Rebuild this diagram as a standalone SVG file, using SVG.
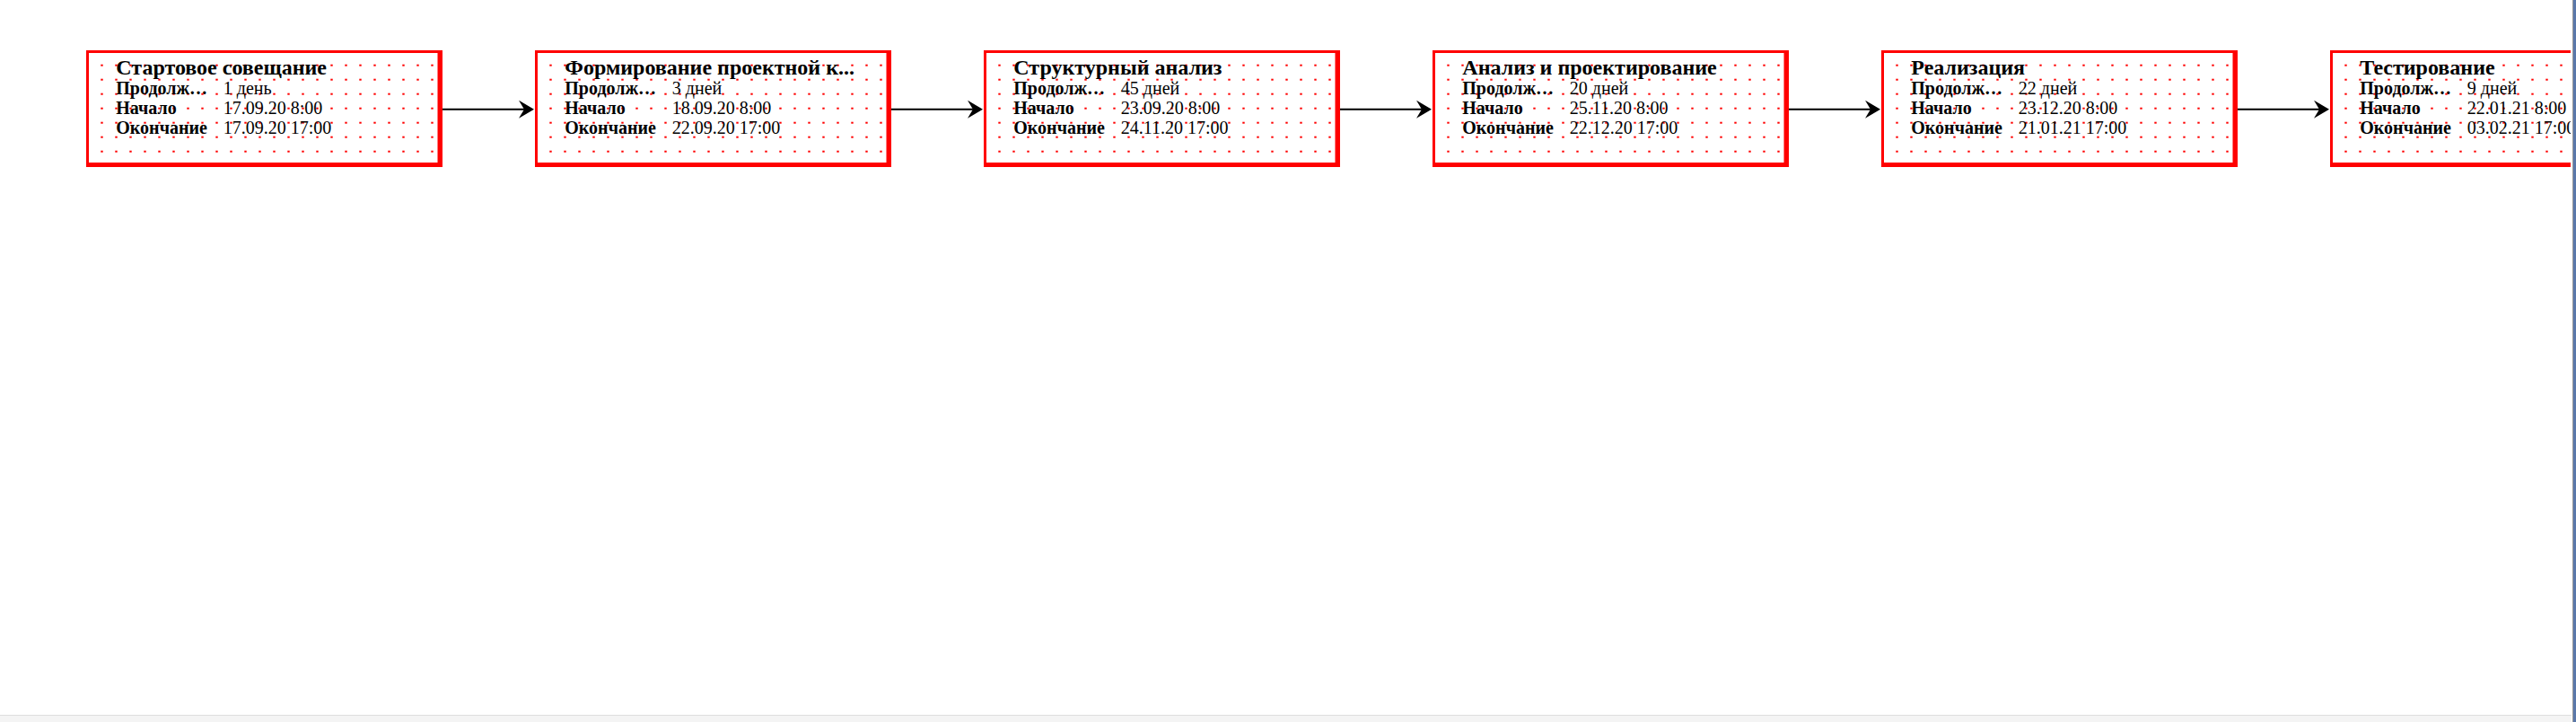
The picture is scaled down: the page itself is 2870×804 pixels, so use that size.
<svg xmlns="http://www.w3.org/2000/svg" width="2870" height="804" viewBox="0 0 2870 804">
<style>
.border{fill:#ff0000}
.inner{fill:#ffffff}
.dots{fill:url(#grid)}
.title{font-family:"Liberation Serif","Times New Roman",serif;font-weight:bold;font-size:24px;fill:#000}
.lbl{font-family:"Liberation Serif","Times New Roman",serif;font-weight:bold;font-size:20px;fill:#000}
.val{font-family:"Liberation Serif","Times New Roman",serif;font-size:20px;fill:#000}
.conn{stroke:#000;stroke-width:2;fill:none;marker-end:url(#arrow)}
</style>
<defs>
<pattern id="grid" patternUnits="userSpaceOnUse" x="0" y="0" width="16" height="16">
<rect x="0.3" y="7.7" width="2.4" height="2" fill="#ff0000"/>
</pattern>
<marker id="arrow" markerUnits="userSpaceOnUse" viewBox="0 0 17 20" refX="12" refY="10" markerWidth="17" markerHeight="20" orient="auto">
<path d="M0,0 L17,10 L0,20 L6,10 Z" fill="#000"/>
</marker>
<clipPath id="view"><rect x="0" y="0" width="2864" height="796"/></clipPath>
</defs>
<rect x="0" y="0" width="2870" height="804" fill="#ffffff"/>
<g clip-path="url(#view)">
<g id="connectors">
<path class="conn" d="M493,121.7 H590"/>
<path class="conn" d="M993,121.7 H1090"/>
<path class="conn" d="M1493,121.7 H1590"/>
<path class="conn" d="M1993,121.7 H2090"/>
<path class="conn" d="M2493,121.7 H2590"/>
</g>
<g id="node1" transform="translate(96,0)">
<rect class="border" x="0" y="56" width="397" height="130"/>
<rect class="inner" x="3" y="59" width="388.5" height="122"/>
<rect class="dots" x="3" y="59" width="388.5" height="122"/>
<text class="title" x="33.3" y="83.3">Стартовое совещание</text>
<text class="lbl" x="33.3" y="105.3">Продолж…</text>
<text class="val" x="152.8" y="105.3">1 день</text>
<text class="lbl" x="33.3" y="127.3">Начало</text>
<text class="val" x="152.8" y="127.3">17.09.20 8:00</text>
<text class="lbl" x="33.3" y="149.3">Окончание</text>
<text class="val" x="152.8" y="149.3">17.09.20 17:00</text>
</g>
<g id="node2" transform="translate(596,0)">
<rect class="border" x="0" y="56" width="397" height="130"/>
<rect class="inner" x="3" y="59" width="388.5" height="122"/>
<rect class="dots" x="3" y="59" width="388.5" height="122"/>
<text class="title" x="33.3" y="83.3">Формирование проектной к...</text>
<text class="lbl" x="33.3" y="105.3">Продолж…</text>
<text class="val" x="152.8" y="105.3">3 дней</text>
<text class="lbl" x="33.3" y="127.3">Начало</text>
<text class="val" x="152.8" y="127.3">18.09.20 8:00</text>
<text class="lbl" x="33.3" y="149.3">Окончание</text>
<text class="val" x="152.8" y="149.3">22.09.20 17:00</text>
</g>
<g id="node3" transform="translate(1096,0)">
<rect class="border" x="0" y="56" width="397" height="130"/>
<rect class="inner" x="3" y="59" width="388.5" height="122"/>
<rect class="dots" x="3" y="59" width="388.5" height="122"/>
<text class="title" x="33.3" y="83.3">Структурный анализ</text>
<text class="lbl" x="33.3" y="105.3">Продолж…</text>
<text class="val" x="152.8" y="105.3">45 дней</text>
<text class="lbl" x="33.3" y="127.3">Начало</text>
<text class="val" x="152.8" y="127.3">23.09.20 8:00</text>
<text class="lbl" x="33.3" y="149.3">Окончание</text>
<text class="val" x="152.8" y="149.3">24.11.20 17:00</text>
</g>
<g id="node4" transform="translate(1596,0)">
<rect class="border" x="0" y="56" width="397" height="130"/>
<rect class="inner" x="3" y="59" width="388.5" height="122"/>
<rect class="dots" x="3" y="59" width="388.5" height="122"/>
<text class="title" x="33.3" y="83.3">Анализ и проектирование</text>
<text class="lbl" x="33.3" y="105.3">Продолж…</text>
<text class="val" x="152.8" y="105.3">20 дней</text>
<text class="lbl" x="33.3" y="127.3">Начало</text>
<text class="val" x="152.8" y="127.3">25.11.20 8:00</text>
<text class="lbl" x="33.3" y="149.3">Окончание</text>
<text class="val" x="152.8" y="149.3">22.12.20 17:00</text>
</g>
<g id="node5" transform="translate(2096,0)">
<rect class="border" x="0" y="56" width="397" height="130"/>
<rect class="inner" x="3" y="59" width="388.5" height="122"/>
<rect class="dots" x="3" y="59" width="388.5" height="122"/>
<text class="title" x="33.3" y="83.3">Реализация</text>
<text class="lbl" x="33.3" y="105.3">Продолж…</text>
<text class="val" x="152.8" y="105.3">22 дней</text>
<text class="lbl" x="33.3" y="127.3">Начало</text>
<text class="val" x="152.8" y="127.3">23.12.20 8:00</text>
<text class="lbl" x="33.3" y="149.3">Окончание</text>
<text class="val" x="152.8" y="149.3">21.01.21 17:00</text>
</g>
<g id="node6" transform="translate(2596,0)">
<rect class="border" x="0" y="56" width="397" height="130"/>
<rect class="inner" x="3" y="59" width="388.5" height="122"/>
<rect class="dots" x="3" y="59" width="388.5" height="122"/>
<text class="title" x="33.3" y="83.3">Тестирование</text>
<text class="lbl" x="33.3" y="105.3">Продолж…</text>
<text class="val" x="152.8" y="105.3">9 дней</text>
<text class="lbl" x="33.3" y="127.3">Начало</text>
<text class="val" x="152.8" y="127.3">22.01.21 8:00</text>
<text class="lbl" x="33.3" y="149.3">Окончание</text>
<text class="val" x="152.8" y="149.3">03.02.21 17:00</text>
</g>
</g>
<rect x="0" y="796" width="2865" height="8" fill="#f4f4f4"/>
<rect x="0" y="796" width="2865" height="1" fill="#dedede"/>
<rect x="2866" y="0" width="1" height="804" fill="#9a9a9a"/>
<rect x="2867" y="0" width="3" height="804" fill="#5a78aa"/>
</svg>
